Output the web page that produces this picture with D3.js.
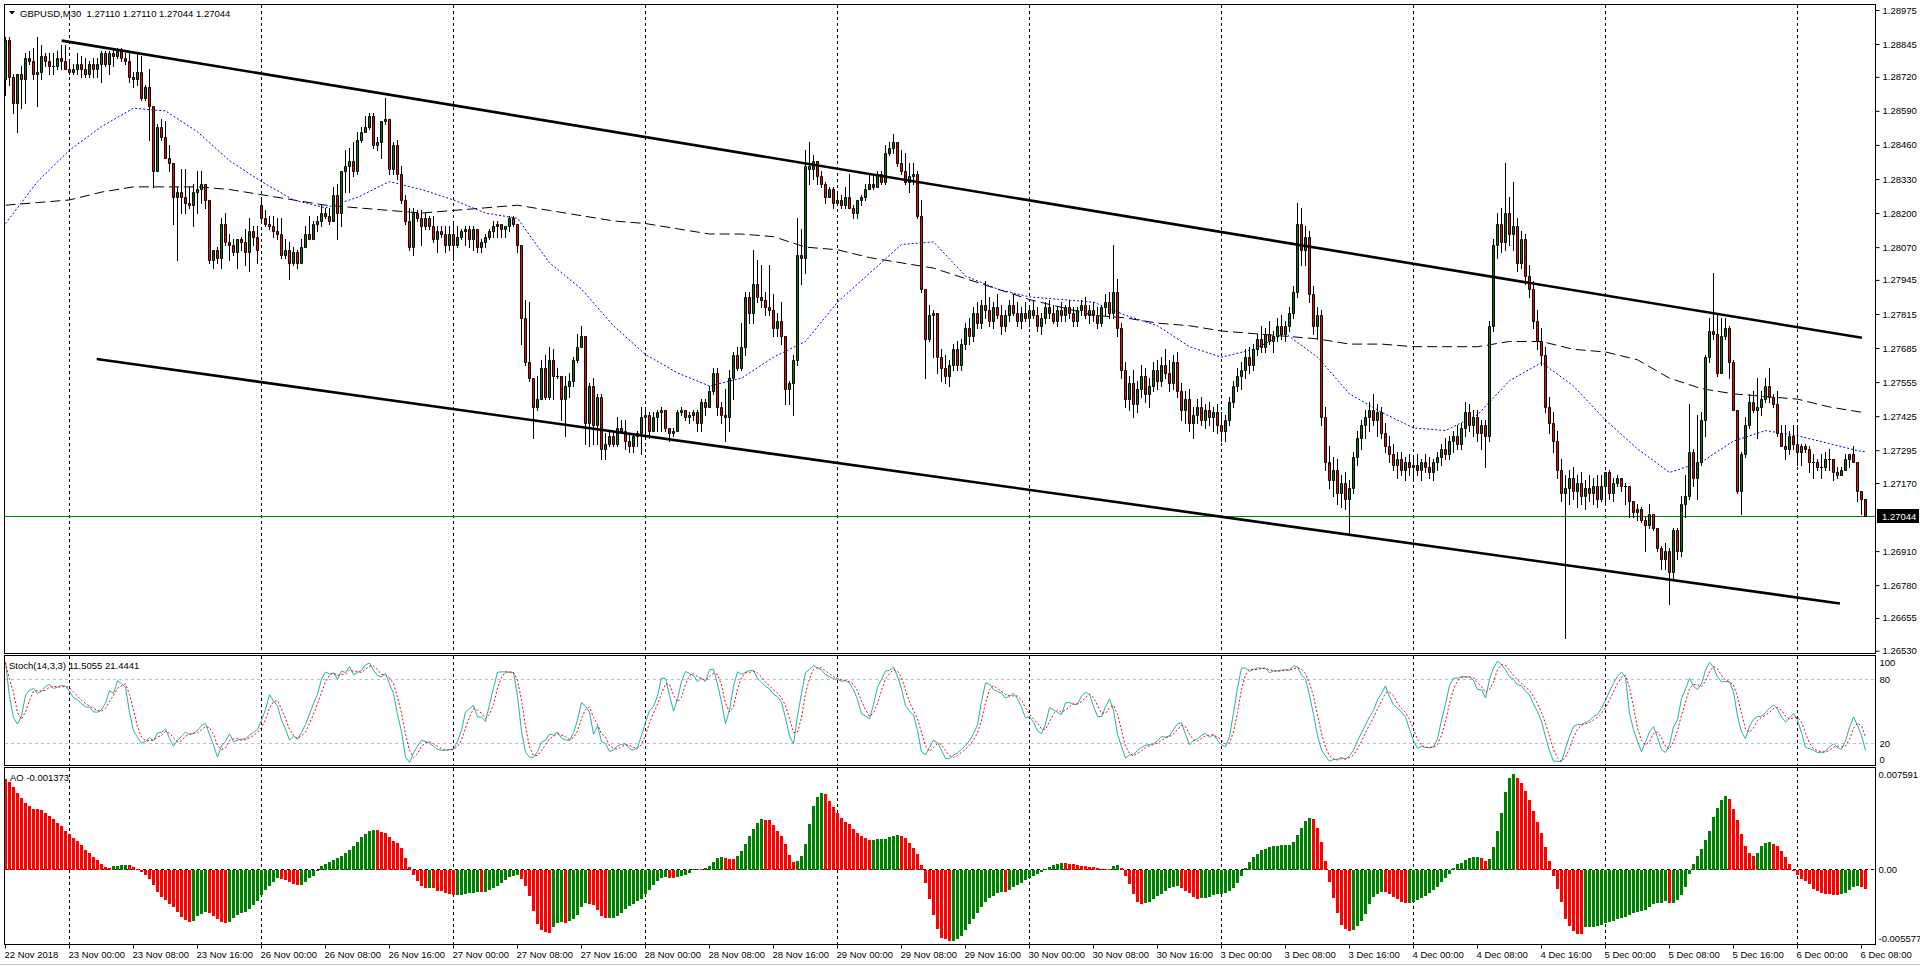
<!DOCTYPE html>
<html><head><meta charset="utf-8">
<script src="https://cdn.jsdelivr.net/npm/d3@7"></script>
<style>html,body{margin:0;padding:0;background:#fff;overflow:hidden}svg text{white-space:pre}</style>
</head><body>
<svg id="c" width="1920" height="967"></svg>
<script>
// ---------------- DATA (GBPUSD M30, 22 Nov 2018 16:00 .. 6 Dec 2018 08:30) ----------------
const opens = [
1.2871,1.2886,1.2872,1.2862,1.2873,1.2871,1.2879,1.2878,1.2873,1.2874,
1.2880,1.2878,1.2876,1.2876,1.2879,1.2878,1.2875,1.2874,1.2875,1.2877,
1.2875,1.2873,1.2877,1.2875,1.2877,1.2881,1.2877,1.2881,1.2880,1.2882,
1.2879,1.2878,1.2872,1.2871,1.2874,1.2864,1.2868,1.2861,1.2836,1.2853,
1.2849,1.2841,1.2839,1.2826,1.2828,1.2826,1.2824,1.2823,1.2828,1.2829,
1.2831,1.2825,1.2802,1.2806,1.2803,1.2816,1.2809,1.2808,1.2805,1.2810,
1.2809,1.2805,1.2813,1.2811,1.2823,1.2818,1.2816,1.2815,1.2813,1.2812,
1.2804,1.2806,1.2801,1.2805,1.2801,1.2807,1.2812,1.2810,1.2816,1.2817,
1.2820,1.2819,1.2817,1.2827,1.2820,1.2836,1.2838,1.2840,1.2836,1.2848,
1.2851,1.2853,1.2857,1.2846,1.2847,1.2855,1.2856,1.2837,1.2846,1.2835,
1.2825,1.2817,1.2807,1.2820,1.2818,1.2815,1.2818,1.2815,1.2810,1.2813,
1.2812,1.2808,1.2812,1.2808,1.2811,1.2813,1.2814,1.2810,1.2814,1.2807,
1.2809,1.2811,1.2813,1.2815,1.2816,1.2814,1.2815,1.2818,1.2816,1.2808,
1.2780,1.2763,1.2757,1.2746,1.2749,1.2761,1.2750,1.2764,1.2758,1.2758,
1.2749,1.2754,1.2756,1.2764,1.2769,1.2773,1.2740,1.2754,1.2739,1.2750,
1.2730,1.2732,1.2735,1.2732,1.2738,1.2737,1.2733,1.2731,1.2735,1.2736,
1.2742,1.2743,1.2737,1.2742,1.2744,1.2745,1.2738,1.2736,1.2737,1.2744,
1.2745,1.2742,1.2743,1.2744,1.2740,1.2748,1.2746,1.2752,1.2759,1.2746,
1.2743,1.2742,1.2757,1.2766,1.2761,1.2769,1.2788,1.2782,1.2793,1.2788,
1.2787,1.2784,1.2783,1.2776,1.2779,1.2773,1.2753,1.2755,1.2764,1.2804,
1.2803,1.2838,1.2837,1.2840,1.2834,1.2831,1.2826,1.2829,1.2824,1.2825,
1.2823,1.2826,1.2822,1.2820,1.2825,1.2826,1.2829,1.2831,1.2830,1.2835,
1.2832,1.2843,1.2845,1.2847,1.2839,1.2836,1.2832,1.2834,1.2835,1.2819,
1.2791,1.2772,1.2781,1.2782,1.2765,1.2761,1.2758,1.2762,1.2768,1.2762,
1.2770,1.2776,1.2773,1.2782,1.2778,1.2785,1.2783,1.2779,1.2784,1.2781,
1.2777,1.2781,1.2785,1.2782,1.2779,1.2782,1.2780,1.2783,1.2781,1.2777,
1.2780,1.2784,1.2782,1.2779,1.2783,1.2781,1.2784,1.2782,1.2779,1.2783,
1.2785,1.2781,1.2783,1.2781,1.2778,1.2784,1.2786,1.2782,1.2790,1.2776,
1.2760,1.2749,1.2755,1.2747,1.2753,1.2758,1.2751,1.2754,1.2760,1.2756,
1.2762,1.2759,1.2755,1.2763,1.2752,1.2745,1.2749,1.2740,1.2743,1.2746,
1.2741,1.2745,1.2742,1.2744,1.2739,1.2737,1.2741,1.2748,1.2754,1.2758,
1.2760,1.2765,1.2762,1.2768,1.2772,1.2769,1.2774,1.2771,1.2773,1.2777,
1.2774,1.2777,1.2782,1.2790,1.2816,1.2806,1.2811,1.2789,1.2777,1.2781,
1.2742,1.2725,1.2718,1.2722,1.2713,1.2717,1.2711,1.2715,1.2727,1.2734,
1.2739,1.2742,1.2745,1.2741,1.2744,1.2736,1.2731,1.2728,1.2724,1.2726,
1.2722,1.2725,1.2723,1.2724,1.2722,1.2725,1.2723,1.2721,1.2725,1.2727,
1.2730,1.2728,1.2733,1.2735,1.2732,1.2738,1.2744,1.2739,1.2742,1.2736,
1.2739,1.2735,1.2777,1.2808,1.2816,1.2809,1.2820,1.2812,1.2815,1.2801,
1.2810,1.2796,1.2791,1.2779,1.2771,1.2766,1.2746,1.2740,1.2733,1.2722,
1.2713,1.2715,1.2719,1.2714,1.2717,1.2712,1.2715,1.2713,1.2716,1.2711,
1.2716,1.2721,1.2713,1.2717,1.2719,1.2716,1.2716,1.2710,1.2706,1.2707,
1.2703,1.2701,1.2705,1.2700,1.2692,1.2688,1.2691,1.2683,1.2699,1.2691,
1.2709,1.2712,1.2729,1.2719,1.2725,1.2741,1.2765,1.2775,1.2774,1.2759,
1.2773,1.2776,1.2763,1.2745,1.2714,1.2728,1.2739,1.2748,1.2745,1.2746,
1.2749,1.2754,1.2750,1.2747,1.2736,1.2731,1.2730,1.2735,1.2732,1.2729,
1.2731,1.2730,1.2725,1.2725,1.2723,1.2723,1.2726,1.2726,1.2721,1.2720,
1.2722,1.2726,1.2728,1.2725,1.2714,1.2711];
const highs = [
1.2887,1.2887,1.2873,1.2873,1.2876,1.2881,1.2882,1.2883,1.2887,1.2884,
1.2881,1.2881,1.2881,1.2882,1.2884,1.2884,1.2878,1.2877,1.2881,1.2880,
1.2879,1.2878,1.2879,1.2879,1.2882,1.2882,1.2882,1.2883,1.2883,1.2883,
1.2881,1.2881,1.2874,1.2881,1.2880,1.2869,1.2875,1.2861,1.2854,1.2856,
1.2855,1.2846,1.2839,1.2830,1.2837,1.2837,1.2830,1.2831,1.2836,1.2836,
1.2831,1.2825,1.2806,1.2807,1.2818,1.2820,1.2812,1.2810,1.2810,1.2811,
1.2814,1.2818,1.2815,1.2815,1.2826,1.2821,1.2819,1.2819,1.2818,1.2818,
1.2810,1.2809,1.2807,1.2806,1.2810,1.2815,1.2819,1.2817,1.2819,1.2823,
1.2822,1.2822,1.2830,1.2831,1.2836,1.2844,1.2845,1.2847,1.2851,1.2853,
1.2857,1.2858,1.2858,1.2849,1.2855,1.2864,1.2856,1.2847,1.2848,1.2838,
1.2827,1.2822,1.2822,1.2821,1.2821,1.2820,1.2819,1.2819,1.2815,1.2815,
1.2815,1.2815,1.2816,1.2815,1.2814,1.2815,1.2815,1.2815,1.2814,1.2810,
1.2812,1.2814,1.2817,1.2817,1.2816,1.2815,1.2819,1.2819,1.2816,1.2808,
1.2787,1.2786,1.2757,1.2758,1.2764,1.2766,1.2769,1.2768,1.2761,1.2758,
1.2758,1.2759,1.2765,1.2774,1.2777,1.2773,1.2755,1.2757,1.2751,1.2751,
1.2736,1.2737,1.2737,1.2742,1.2741,1.2741,1.2736,1.2736,1.2737,1.2746,
1.2746,1.2744,1.2744,1.2745,1.2746,1.2745,1.2738,1.2738,1.2745,1.2746,
1.2745,1.2744,1.2745,1.2745,1.2749,1.2749,1.2754,1.2761,1.2761,1.2748,
1.2753,1.2760,1.2767,1.2769,1.2778,1.2790,1.2790,1.2806,1.2802,1.2800,
1.2790,1.2800,1.2789,1.2782,1.2786,1.2773,1.2756,1.2766,1.2818,1.2814,
1.2844,1.2847,1.2842,1.2840,1.2836,1.2832,1.2830,1.2830,1.2828,1.2827,
1.2830,1.2835,1.2823,1.2825,1.2827,1.2831,1.2835,1.2835,1.2836,1.2836,
1.2846,1.2847,1.2850,1.2847,1.2844,1.2843,1.2839,1.2839,1.2836,1.2825,
1.2791,1.2785,1.2783,1.2782,1.2768,1.2766,1.2764,1.2770,1.2771,1.2772,
1.2778,1.2780,1.2784,1.2786,1.2787,1.2794,1.2788,1.2786,1.2789,1.2785,
1.2783,1.2787,1.2789,1.2786,1.2784,1.2786,1.2785,1.2787,1.2784,1.2782,
1.2786,1.2787,1.2785,1.2784,1.2786,1.2785,1.2787,1.2784,1.2784,1.2787,
1.2788,1.2785,1.2786,1.2784,1.2785,1.2789,1.2790,1.2808,1.2795,1.2778,
1.2763,1.2758,1.2760,1.2756,1.2762,1.2761,1.2757,1.2763,1.2764,1.2765,
1.2768,1.2764,1.2766,1.2767,1.2755,1.2752,1.2753,1.2746,1.2749,1.2750,
1.2747,1.2748,1.2746,1.2747,1.2744,1.2743,1.2750,1.2756,1.2761,1.2763,
1.2768,1.2769,1.2770,1.2774,1.2777,1.2776,1.2779,1.2775,1.2780,1.2781,
1.2779,1.2784,1.2792,1.2824,1.2822,1.2815,1.2813,1.2792,1.2784,1.2783,
1.2746,1.2731,1.2727,1.2726,1.2720,1.2721,1.2718,1.2729,1.2737,1.2741,
1.2745,1.2748,1.2751,1.2747,1.2746,1.2740,1.2735,1.2732,1.2729,1.2729,
1.2727,1.2728,1.2727,1.2728,1.2726,1.2728,1.2727,1.2726,1.2729,1.2732,
1.2734,1.2735,1.2737,1.2739,1.2740,1.2748,1.2747,1.2745,1.2745,1.2741,
1.2741,1.2779,1.2810,1.2820,1.2822,1.2839,1.2826,1.2832,1.2818,1.2813,
1.2812,1.2800,1.2794,1.2783,1.2776,1.2769,1.2750,1.2744,1.2737,1.2726,
1.2720,1.2722,1.2723,1.2720,1.2721,1.2718,1.2720,1.2719,1.2720,1.2720,
1.2721,1.2722,1.2719,1.2720,1.2719,1.2717,1.2716,1.2710,1.2709,1.2708,
1.2704,1.2709,1.2705,1.2700,1.2693,1.2694,1.2692,1.2700,1.2700,1.2712,
1.2720,1.2747,1.2730,1.2743,1.2744,1.2766,1.2780,1.2797,1.2782,1.2780,
1.2780,1.2777,1.2764,1.2745,1.2729,1.2742,1.2751,1.2752,1.2757,1.2752,
1.2757,1.2761,1.2751,1.2752,1.2739,1.2739,1.2737,1.2739,1.2739,1.2732,
1.2732,1.2731,1.2728,1.2726,1.2728,1.2729,1.2730,1.2726,1.2723,1.2723,
1.2728,1.2728,1.2731,1.2725,1.2714,1.2711];
const lows = [
1.2865,1.2869,1.2858,1.2851,1.2860,1.2862,1.2877,1.2871,1.2861,1.2871,
1.2876,1.2873,1.2873,1.2875,1.2875,1.2875,1.2873,1.2873,1.2873,1.2872,
1.2872,1.2872,1.2872,1.2872,1.2870,1.2876,1.2873,1.2876,1.2879,1.2878,
1.2877,1.2870,1.2868,1.2869,1.2863,1.2863,1.2848,1.2830,1.2836,1.2848,
1.2841,1.2836,1.2816,1.2802,1.2820,1.2820,1.2822,1.2815,1.2820,1.2824,
1.2822,1.2801,1.2799,1.2801,1.2799,1.2808,1.2802,1.2804,1.2799,1.2806,
1.2800,1.2798,1.2808,1.2801,1.2817,1.2815,1.2814,1.2811,1.2810,1.2803,
1.2803,1.2795,1.2800,1.2799,1.2801,1.2807,1.2810,1.2810,1.2813,1.2815,
1.2818,1.2816,1.2817,1.2810,1.2815,1.2828,1.2828,1.2834,1.2835,1.2847,
1.2851,1.2852,1.2845,1.2844,1.2841,1.2854,1.2835,1.2835,1.2833,1.2824,
1.2816,1.2806,1.2804,1.2817,1.2808,1.2814,1.2814,1.2809,1.2805,1.2811,
1.2805,1.2806,1.2802,1.2807,1.2810,1.2808,1.2807,1.2806,1.2805,1.2805,
1.2807,1.2810,1.2811,1.2811,1.2811,1.2811,1.2813,1.2815,1.2805,1.2770,
1.2762,1.2756,1.2734,1.2745,1.2749,1.2749,1.2749,1.2749,1.2757,1.2741,
1.2735,1.2750,1.2754,1.2763,1.2769,1.2732,1.2731,1.2732,1.2732,1.2726,
1.2726,1.2731,1.2731,1.2731,1.2736,1.2730,1.2729,1.2729,1.2731,1.2728,
1.2735,1.2734,1.2737,1.2737,1.2737,1.2737,1.2733,1.2735,1.2737,1.2743,
1.2741,1.2740,1.2741,1.2737,1.2737,1.2743,1.2746,1.2751,1.2743,1.2740,
1.2733,1.2737,1.2749,1.2760,1.2760,1.2766,1.2778,1.2778,1.2786,1.2784,
1.2781,1.2781,1.2773,1.2773,1.2770,1.2747,1.2747,1.2743,1.2762,1.2793,
1.2797,1.2831,1.2833,1.2831,1.2830,1.2824,1.2826,1.2822,1.2823,1.2822,
1.2822,1.2822,1.2818,1.2818,1.2823,1.2825,1.2829,1.2829,1.2830,1.2831,
1.2831,1.2842,1.2843,1.2838,1.2835,1.2831,1.2828,1.2831,1.2818,1.2790,
1.2757,1.2771,1.2765,1.2759,1.2756,1.2755,1.2754,1.2760,1.2760,1.2760,
1.2768,1.2770,1.2771,1.2776,1.2776,1.2780,1.2777,1.2776,1.2780,1.2774,
1.2775,1.2779,1.2781,1.2777,1.2776,1.2779,1.2777,1.2780,1.2775,1.2774,
1.2778,1.2780,1.2778,1.2777,1.2779,1.2779,1.2780,1.2777,1.2777,1.2781,
1.2780,1.2778,1.2779,1.2776,1.2777,1.2781,1.2780,1.2780,1.2773,1.2757,
1.2746,1.2745,1.2742,1.2744,1.2750,1.2748,1.2746,1.2752,1.2753,1.2754,
1.2757,1.2752,1.2753,1.2750,1.2741,1.2740,1.2737,1.2734,1.2740,1.2739,
1.2738,1.2739,1.2737,1.2736,1.2733,1.2733,1.2739,1.2746,1.2752,1.2753,
1.2757,1.2759,1.2760,1.2766,1.2767,1.2767,1.2770,1.2767,1.2771,1.2772,
1.2771,1.2775,1.2780,1.2788,1.2800,1.2800,1.2786,1.2774,1.2772,1.2739,
1.2722,1.2715,1.2712,1.2709,1.2708,1.2707,1.2698,1.2713,1.2724,1.2730,
1.2734,1.2737,1.2739,1.2735,1.2734,1.2729,1.2725,1.2722,1.2719,1.2720,
1.2718,1.2720,1.2719,1.2720,1.2718,1.2721,1.2719,1.2718,1.2722,1.2724,
1.2726,1.2726,1.2729,1.2730,1.2730,1.2735,1.2737,1.2735,1.2733,1.2730,
1.2723,1.2733,1.2775,1.2803,1.2805,1.2806,1.2808,1.2806,1.2798,1.2799,
1.2793,1.2788,1.2776,1.2768,1.2762,1.2744,1.2736,1.2729,1.2719,1.2710,
1.2658,1.2709,1.2711,1.2708,1.2709,1.2707,1.2710,1.2709,1.2708,1.2710,
1.2709,1.2711,1.2710,1.2716,1.2714,1.2709,1.2704,1.2704,1.2703,1.2702,
1.2691,1.2700,1.2699,1.2691,1.2684,1.2684,1.2671,1.2680,1.2688,1.2689,
1.2704,1.2711,1.2716,1.2711,1.2724,1.2735,1.2763,1.2772,1.2758,1.2759,
1.2772,1.2757,1.2745,1.2713,1.2705,1.2727,1.2738,1.2744,1.2734,1.2743,
1.2748,1.2748,1.2746,1.2735,1.2731,1.2726,1.2728,1.2730,1.2724,1.2724,
1.2729,1.2721,1.2719,1.2722,1.2719,1.2722,1.2722,1.2718,1.2719,1.2720,
1.2722,1.2723,1.2725,1.2710,1.2705,1.27044];
const closes = [
1.2886,1.2872,1.2862,1.2873,1.2871,1.2879,1.2878,1.2873,1.2874,1.2880,
1.2878,1.2876,1.2876,1.2879,1.2878,1.2875,1.2874,1.2875,1.2877,1.2875,
1.2873,1.2877,1.2875,1.2877,1.2881,1.2877,1.2881,1.2880,1.2882,1.2879,
1.2878,1.2872,1.2871,1.2874,1.2864,1.2868,1.2861,1.2836,1.2853,1.2849,
1.2841,1.2839,1.2826,1.2828,1.2826,1.2824,1.2823,1.2828,1.2829,1.2831,
1.2825,1.2802,1.2806,1.2803,1.2816,1.2809,1.2808,1.2805,1.2810,1.2809,
1.2805,1.2813,1.2811,1.2806,1.2818,1.2816,1.2815,1.2813,1.2812,1.2804,
1.2806,1.2801,1.2805,1.2801,1.2807,1.2812,1.2810,1.2816,1.2817,1.2820,
1.2819,1.2817,1.2827,1.2820,1.2836,1.2838,1.2840,1.2836,1.2848,1.2851,
1.2853,1.2857,1.2846,1.2847,1.2855,1.2856,1.2837,1.2846,1.2835,1.2825,
1.2817,1.2807,1.2820,1.2818,1.2815,1.2818,1.2815,1.2810,1.2813,1.2812,
1.2808,1.2812,1.2808,1.2811,1.2813,1.2814,1.2810,1.2814,1.2807,1.2809,
1.2811,1.2813,1.2815,1.2816,1.2814,1.2815,1.2818,1.2816,1.2808,1.2780,
1.2763,1.2757,1.2746,1.2749,1.2761,1.2750,1.2764,1.2758,1.2758,1.2749,
1.2754,1.2756,1.2764,1.2769,1.2773,1.2740,1.2754,1.2739,1.2750,1.2730,
1.2732,1.2735,1.2732,1.2738,1.2737,1.2733,1.2731,1.2735,1.2736,1.2742,
1.2743,1.2737,1.2742,1.2744,1.2745,1.2738,1.2736,1.2737,1.2744,1.2745,
1.2742,1.2743,1.2744,1.2740,1.2748,1.2746,1.2752,1.2759,1.2746,1.2743,
1.2742,1.2757,1.2766,1.2761,1.2769,1.2788,1.2782,1.2793,1.2788,1.2787,
1.2784,1.2783,1.2776,1.2779,1.2773,1.2753,1.2755,1.2764,1.2804,1.2803,
1.2838,1.2837,1.2840,1.2834,1.2831,1.2826,1.2829,1.2824,1.2825,1.2823,
1.2826,1.2822,1.2820,1.2825,1.2826,1.2829,1.2831,1.2830,1.2835,1.2832,
1.2843,1.2845,1.2847,1.2839,1.2836,1.2832,1.2834,1.2835,1.2819,1.2791,
1.2772,1.2781,1.2782,1.2765,1.2761,1.2758,1.2762,1.2768,1.2762,1.2770,
1.2776,1.2773,1.2782,1.2778,1.2785,1.2783,1.2779,1.2784,1.2781,1.2777,
1.2781,1.2785,1.2782,1.2779,1.2782,1.2780,1.2783,1.2781,1.2777,1.2780,
1.2784,1.2782,1.2779,1.2783,1.2781,1.2784,1.2782,1.2779,1.2783,1.2785,
1.2781,1.2783,1.2781,1.2778,1.2784,1.2786,1.2782,1.2790,1.2776,1.2760,
1.2749,1.2755,1.2747,1.2753,1.2758,1.2751,1.2754,1.2760,1.2756,1.2762,
1.2759,1.2755,1.2763,1.2752,1.2745,1.2749,1.2740,1.2743,1.2746,1.2741,
1.2745,1.2742,1.2744,1.2739,1.2737,1.2741,1.2748,1.2754,1.2758,1.2760,
1.2765,1.2762,1.2768,1.2772,1.2769,1.2774,1.2771,1.2773,1.2777,1.2774,
1.2777,1.2782,1.2790,1.2816,1.2806,1.2811,1.2789,1.2777,1.2781,1.2742,
1.2725,1.2718,1.2722,1.2713,1.2717,1.2711,1.2715,1.2727,1.2734,1.2739,
1.2742,1.2745,1.2741,1.2744,1.2736,1.2731,1.2728,1.2724,1.2726,1.2722,
1.2725,1.2723,1.2724,1.2722,1.2725,1.2723,1.2721,1.2725,1.2727,1.2730,
1.2728,1.2733,1.2735,1.2732,1.2738,1.2744,1.2739,1.2742,1.2736,1.2739,
1.2735,1.2777,1.2808,1.2816,1.2809,1.2820,1.2812,1.2815,1.2801,1.2810,
1.2796,1.2791,1.2779,1.2771,1.2766,1.2746,1.2740,1.2733,1.2722,1.2713,
1.2715,1.2719,1.2714,1.2717,1.2712,1.2715,1.2713,1.2716,1.2711,1.2716,
1.2721,1.2713,1.2717,1.2719,1.2716,1.2716,1.2710,1.2706,1.2707,1.2703,
1.2701,1.2705,1.2700,1.2692,1.2688,1.2691,1.2683,1.2699,1.2691,1.2709,
1.2712,1.2729,1.2719,1.2725,1.2741,1.2765,1.2775,1.2774,1.2759,1.2773,
1.2776,1.2763,1.2745,1.2714,1.2728,1.2739,1.2748,1.2745,1.2746,1.2749,
1.2754,1.2750,1.2747,1.2736,1.2731,1.2730,1.2735,1.2732,1.2729,1.2731,
1.2730,1.2725,1.2725,1.2723,1.2723,1.2726,1.2726,1.2721,1.2720,1.2722,
1.2726,1.2728,1.2725,1.2714,1.2711,1.27044];

// Moving averages, one value every 8 bars (bar 0, 8, ... 464) plus the last bar (465)
const maFast = [1.2816,1.2832,1.2844,1.2853,1.2860,1.2859,1.2851,1.2840,1.2832,1.2825,
1.2822,1.2826,1.2832,1.2829,1.2825,1.2820,1.2818,1.2801,1.2791,1.2777,
1.2766,1.2759,1.2754,1.2757,1.2765,1.2771,1.2786,1.2797,1.2808,1.2809,
1.2796,1.2791,1.2788,1.2787,1.2786,1.2781,1.2777,1.2769,1.2765,1.2768,
1.2774,1.2765,1.2751,1.2744,1.2738,1.2737,1.2743,1.2756,1.2763,1.2754,
1.2741,1.2730,1.2721,1.2725,1.2733,1.2737,1.2735,1.2732,1.2729,1.2729];
const maSlow = [1.2823,1.2824,1.2825,1.2828,1.2830,1.2830,1.2830,1.2829,1.2827,1.2825,
1.2823,1.2822,1.2821,1.2820,1.2821,1.2822,1.2823,1.2821,1.2819,1.2817,
1.2816,1.2814,1.2812,1.2812,1.2811,1.2807,1.2806,1.2803,1.2801,1.2799,
1.2795,1.2791,1.2787,1.2784,1.2781,1.2780,1.2778,1.2777,1.2775,1.2774,
1.2773,1.2772,1.2770,1.2770,1.2769,1.2769,1.2769,1.2771,1.2771,1.2768,
1.2767,1.2764,1.2757,1.2753,1.2751,1.2750,1.2749,1.2746,1.2744,1.2744];
const maBars = d3.range(0, 465, 8).concat([465]);

// AO values of the first bars (their 34-bar history lies left of the window)
const aoLeadIn = [0.00677,0.00652,0.00619,0.00574,0.00536,0.00499,0.00474,0.00456,0.00449,0.00444,
0.00426,0.00399,0.00374,0.00351,0.00323,0.00288,0.00263,0.00238,0.00211,0.00180,
0.00148,0.00123,0.00093,0.00068,0.00038,0.00017,0.00010,0.00023,0.00026,0.00035,
0.00036,0.00033,0.00017];

// Drawn trend channel: [bar index, price] anchors
const trendLines = [[[14.05,1.28858],[464.1,1.27724]],[[22.8,1.27643],[458.6,1.26710]]];
const bidPrice = 1.27044;

// Axis labels
const priceTicks = [1.28975,1.28845,1.28720,1.28590,1.28460,1.28330,1.28200,1.28070,1.27945,1.27815,
1.27685,1.27555,1.27425,1.27295,1.27170,1.26910,1.26780,1.26655,1.26530];
const timeLabels = ["22 Nov 2018","23 Nov 00:00","23 Nov 08:00","23 Nov 16:00","26 Nov 00:00","26 Nov 08:00",
"26 Nov 16:00","27 Nov 00:00","27 Nov 08:00","27 Nov 16:00","28 Nov 00:00","28 Nov 08:00","28 Nov 16:00",
"29 Nov 00:00","29 Nov 08:00","29 Nov 16:00","30 Nov 00:00","30 Nov 08:00","30 Nov 16:00","3 Dec 00:00",
"3 Dec 08:00","3 Dec 16:00","4 Dec 00:00","4 Dec 08:00","4 Dec 16:00","5 Dec 00:00","5 Dec 08:00",
"5 Dec 16:00","6 Dec 00:00","6 Dec 08:00"];
const timeLabelBars = d3.range(0, 465, 16);
const daySeparatorBars = [16,64,112,160,208,256,304,352,400,448];
const stochTicks = [100,80,20,0];
const stochLevels = [20,80];
const aoTicks = [0.007591, 0, -0.005577];
const aoTickLabels = ["0.007591","0.00","-0.005577"];
const headerText = "GBPUSD,M30  1.27110 1.27110 1.27044 1.27044";
const stochText = "Stoch(14,3,3) 11.5055 21.4441";
const aoText = "AO -0.001373";

// ---------------- DRAWING ----------------
const FONT = "'Liberation Sans', Arial, sans-serif";
const FS = 9.5;
const N = closes.length;
const svg = d3.select('#c');
svg.append('rect').attr('width',1920).attr('height',967).attr('fill','#fff');

const x = d3.scaleLinear().domain([0, 465]).range([5.5, 1865.5]);
const yP = d3.scaleLinear().domain([1.26525, 1.28994]).range([652, 5]);
const yS = d3.scaleLinear().domain([0, 100]).range([764.7, 657.6]);
const yA = d3.scaleLinear().domain([-0.005577, 0.007591]).range([944, 768]);

const defs = svg.append('defs');
function clip(id, x0, y0, w, h){ defs.append('clipPath').attr('id',id).append('rect').attr('x',x0).attr('y',y0).attr('width',w).attr('height',h); }
clip('cm', 5, 5, 1870, 648); clip('cs', 5, 656, 1870, 109); clip('ca', 5, 768, 1870, 176);

const gM = svg.append('g').attr('clip-path','url(#cm)');
const gS = svg.append('g').attr('clip-path','url(#cs)');
const gA = svg.append('g').attr('clip-path','url(#ca)');

// day separators
[[gM,5,653],[gS,656,765],[gA,768,944]].forEach(([g,a,b])=>{
  g.selectAll(null).data(daySeparatorBars).enter().append('line')
   .attr('x1',d=>x(d)).attr('x2',d=>x(d)).attr('y1',a).attr('y2',b)
   .attr('stroke','#000').attr('stroke-width',1).attr('stroke-dasharray','3,3');
});

// moving averages
const maLine = d3.line().x(d=>x(d[0])).y(d=>yP(d[1]));
gM.append('path').attr('d', maLine(maBars.map((b,k)=>[b,maSlow[k]])))
  .attr('fill','none').attr('stroke','#000').attr('stroke-width',1).attr('stroke-dasharray','10,5');
gM.append('path').attr('d', maLine(maBars.map((b,k)=>[b,maFast[k]])))
  .attr('fill','none').attr('stroke','#0000ff').attr('stroke-width',1).attr('stroke-dasharray','2,2');

// bid line
const yb = Math.round(yP(bidPrice)) + 0.5;
gM.append('line').attr('x1',5).attr('x2',1875).attr('y1',yb).attr('y2',yb).attr('stroke','#008000').attr('stroke-width',1);

// candles
const bars = d3.range(N).map(i=>{
  const o=opens[i], c=closes[i];
  return {i, o, c, h: Math.max(highs[i],o,c), l: Math.min(lows[i],o,c)};
});
const cg = gM.append('g');
cg.selectAll('line.w').data(bars).enter().append('line')
  .attr('x1',d=>x(d.i)).attr('x2',d=>x(d.i))
  .attr('y1',d=>Math.round(yP(d.h))).attr('y2',d=>Math.round(yP(d.l))+1)
  .attr('stroke','#000').attr('stroke-width',1);
cg.selectAll('path.b').data(bars).enter().append('path')
  .attr('d',d=>{
    const t = Math.round(yP(Math.max(d.o,d.c)))+0.5, b = Math.round(yP(Math.min(d.o,d.c)))+0.5;
    const xl = x(d.i)-1, xr = x(d.i)+1;
    if (b - t < 1) return `M${xl-0.5},${t}H${xr+0.5}`;
    return `M${xl},${t}H${xr}V${b}H${xl}Z`;
  })
  .attr('fill',d=>d.c>=d.o ? '#008000' : '#ff0000')
  .attr('stroke','#000').attr('stroke-width',1);

// trend channel
trendLines.forEach(([a,b])=>{
  gM.append('line').attr('x1',x(a[0])).attr('y1',yP(a[1])).attr('x2',x(b[0])).attr('y2',yP(b[1]))
    .attr('stroke','#000').attr('stroke-width',2.6);
});

// ---- Stochastic (14,3,3) computed from the candles ----
const kP=14, slow=3, dP=3;
const LL = d3.range(N).map(i=>d3.min(lows.slice(Math.max(0,i-kP+1), i+1)));
const HH = d3.range(N).map(i=>d3.max(highs.slice(Math.max(0,i-kP+1), i+1)));
const K = d3.range(N).map(i=>{
  let num=0, den=0;
  for (let j=Math.max(0,i-slow+1); j<=i; j++){ num += closes[j]-LL[j]; den += HH[j]-LL[j]; }
  return den>0 ? 100*num/den : 50;
});
const D = d3.range(N).map(i=>d3.mean(K.slice(Math.max(0,i-dP+1), i+1)));
stochLevels.forEach(v=>{
  const yy = Math.round(yS(v))+0.5;
  gS.append('line').attr('x1',5).attr('x2',1875).attr('y1',yy).attr('y2',yy)
    .attr('stroke','#c0c0c0').attr('stroke-width',1).attr('stroke-dasharray','3,3');
});
const sLine = d3.line().x((d,i)=>x(i)).y(d=>yS(d));
gS.append('path').attr('d',sLine(K)).attr('fill','none').attr('stroke','#20b2aa').attr('stroke-width',1);
gS.append('path').attr('d',sLine(D)).attr('fill','none').attr('stroke','#ff0000').attr('stroke-width',1).attr('stroke-dasharray','2,2');

// ---- Awesome Oscillator computed from the candles ----
const med = d3.range(N).map(i=>(highs[i]+lows[i])/2);
const sma = (arr,i,p)=>d3.mean(arr.slice(i-p+1,i+1));
const ao = d3.range(N).map(i=> i < aoLeadIn.length ? aoLeadIn[i] : sma(med,i,5) - sma(med,i,34));
const y0 = Math.round(yA(0));
gA.append('line').attr('x1',5).attr('x2',1875).attr('y1',y0+0.5).attr('y2',y0+0.5)
  .attr('stroke','#000').attr('stroke-width',1).attr('stroke-dasharray','3,3');
gA.selectAll('rect.ao').data(ao).enter().append('rect')
  .attr('x',(d,i)=>x(i)-1.5).attr('width',3)
  .attr('y',d=>d>=0 ? Math.round(yA(d)) : y0+1)
  .attr('height',d=>Math.max(1, d>=0 ? y0+1-Math.round(yA(d)) : Math.round(yA(d))-y0))
  .attr('fill',(d,i)=> i>0 && d>ao[i-1] ? '#008000' : '#ff0000');

// ---- frames ----
const frame = (y0_,h)=>svg.append('rect').attr('x',4.5).attr('y',y0_).attr('width',1871).attr('height',h)
  .attr('fill','none').attr('stroke','#000').attr('stroke-width',1);
frame(4.5,649); frame(655.5,110); frame(767.5,177);
svg.append('line').attr('x1',0).attr('x2',1920).attr('y1',964.5).attr('y2',964.5).attr('stroke','#c8c8c8');

// ---- axes ----
function styleAxis(g){
  g.select('.domain').remove();
  g.selectAll('.tick line').attr('stroke','#000');
  g.selectAll('text').attr('font-family',FONT).attr('font-size',FS).attr('fill','#000');
}
const gPA = svg.append('g').attr('transform','translate(1875.5,0)')
  .call(d3.axisRight(yP).tickValues(priceTicks).tickSize(4).tickPadding(3).tickFormat(d3.format('.5f')));
styleAxis(gPA);

const gSA = svg.append('g').attr('transform','translate(1875.5,0)')
  .call(d3.axisRight(yS).tickValues(stochTicks).tickSize(0).tickPadding(4).tickFormat(d=>String(d)));
styleAxis(gSA);
gSA.selectAll('text').attr('dy',d=> d===100 ? '0.85em' : d===0 ? '-0.25em' : '0.32em');

const gAA = svg.append('g').attr('transform','translate(1875.5,0)')
  .call(d3.axisRight(yA).tickValues(aoTicks).tickSize(0).tickPadding(3).tickFormat((d,k)=>aoTickLabels[k]));
styleAxis(gAA);
gAA.selectAll('text').attr('dy',(d,k)=> k===0 ? '0.95em' : k===2 ? '-0.3em' : '0.32em');

const gX = svg.append('g').attr('transform','translate(0,944.5)')
  .call(d3.axisBottom(x).offset(0).tickValues(timeLabelBars).tickSize(4).tickPadding(3).tickFormat((d,k)=>timeLabels[k]));
styleAxis(gX);
gX.selectAll('text').attr('text-anchor','start').attr('x',-1);

// bid price label
svg.append('rect').attr('x',1877).attr('y',yb-7.5).attr('width',42).attr('height',14).attr('fill','#000');
svg.append('text').attr('x',1882).attr('y',yb).attr('dy','0.34em').attr('font-family',FONT).attr('font-size',FS)
  .attr('fill','#fff').text(d3.format('.5f')(bidPrice));

// ---- titles ----
svg.append('path').attr('d','M9,11L15,11L12,14.5Z').attr('fill','#000');
svg.append('text').attr('x',20).attr('y',16.5).attr('font-family',FONT).attr('font-size',FS).text(headerText);
svg.append('text').attr('x',9).attr('y',668.5).attr('font-family',FONT).attr('font-size',FS).text(stochText);
svg.append('text').attr('x',10).attr('y',780.5).attr('font-family',FONT).attr('font-size',FS).text(aoText);
</script>
</body></html>
